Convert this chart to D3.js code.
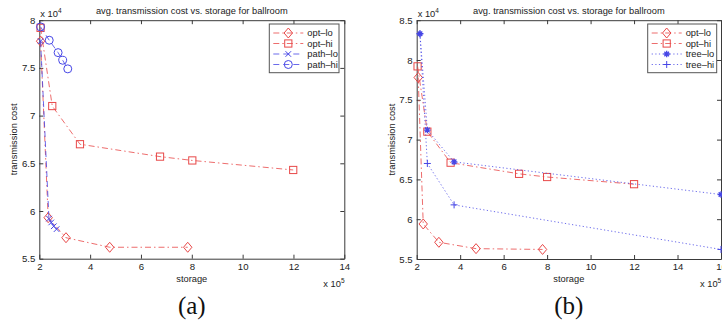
<!DOCTYPE html>
<html>
<head>
<meta charset="utf-8">
<script src="https://cdn.jsdelivr.net/npm/d3@7"></script>
<style>
  body { margin: 0; background: #fff; }
  svg { display: block; font-family: "Liberation Sans", Arial, sans-serif; }
</style>
</head>
<body>
<svg id="chart" width="722" height="326"></svg>
<script>
// values: x in units of 1e5 (storage), y in units of 1e4 (cost)
const titleText = "avg. transmission cost vs. storage for ballroom";

// panel (a)
const optLoA  = [[2.05, 7.78], [2.35, 5.93], [3.05, 5.72], [4.77, 5.62], [7.84, 5.62]];
const optHiA  = [[2.05, 7.92], [2.51, 7.10], [3.60, 6.70], [6.75, 6.57], [8.02, 6.53], [11.99, 6.43]];
const pathLoA = [[2.05, 7.78], [2.38, 5.92], [2.47, 5.88], [2.57, 5.84], [2.68, 5.81]];
const pathHiA = [[2.05, 7.93], [2.39, 7.79], [2.74, 7.66], [2.92, 7.58], [3.12, 7.49]];
const xTicksA = [2, 4, 6, 8, 10, 12, 14];
const yTicksA = [5.5, 6, 6.5, 7, 7.5, 8];

// panel (b)
const optLoB  = [[2.07, 7.78], [2.30, 5.94], [3.02, 5.71], [4.73, 5.63], [7.79, 5.62]];
const optHiB  = [[2.04, 7.92], [2.49, 7.10], [3.56, 6.71], [6.71, 6.57], [8.00, 6.53], [12.00, 6.44]];
const treeLoB = [[2.15, 8.33], [2.49, 7.12], [3.72, 6.72], [16.0, 6.31]];
const treeHiB = [[2.15, 8.33], [2.49, 6.70], [3.72, 6.18], [16.0, 5.62]];
const xTicksB = [2, 4, 6, 8, 10, 12, 14, 16];
const yTicksB = [5.5, 6, 6.5, 7, 7.5, 8, 8.5];

const RED = "#e84848", BLUE = "#4646e6";
const dash = { dashdot: "6,3,1.5,3", dashed: "6,4", dotted: "1.2,2.4" };

const svg = d3.select("#chart");
svg.append("rect").attr("width", 722).attr("height", 326).attr("fill", "#fff");

function marker(g, type, x, y, color) {
  if (type === "diamond") {
    g.append("path").attr("d", `M${x},${y-5}L${x+4.2},${y}L${x},${y+5}L${x-4.2},${y}Z`)
      .attr("fill", "none").attr("stroke", color).attr("stroke-width", 1);
  } else if (type === "square") {
    g.append("rect").attr("x", x - 3.6).attr("y", y - 3.6).attr("width", 7.2).attr("height", 7.2)
      .attr("fill", "none").attr("stroke", color).attr("stroke-width", 1);
  } else if (type === "circle") {
    g.append("circle").attr("cx", x).attr("cy", y).attr("r", 4)
      .attr("fill", "none").attr("stroke", color).attr("stroke-width", 1);
  } else if (type === "plus") {
    g.append("path").attr("d", `M${x-3.5},${y}H${x+3.5}M${x},${y-3.5}V${y+3.5}`)
      .attr("stroke", color).attr("stroke-width", 1);
  } else if (type === "star") {
    const r = 3.2, d = r * 0.72;
    g.append("path")
      .attr("d", `M${x-r},${y}H${x+r}M${x},${y-r}V${y+r}M${x-d},${y-d}L${x+d},${y+d}M${x-d},${y+d}L${x+d},${y-d}`)
      .attr("stroke", color).attr("stroke-width", 1.3);
  } else if (type === "xmark") {
    const d = 2.8;
    g.append("path").attr("d", `M${x-d},${y-d}L${x+d},${y+d}M${x-d},${y+d}L${x+d},${y-d}`)
      .attr("stroke", color).attr("stroke-width", 1);
  }
}

function drawPanel(p) {
  const x = d3.scaleLinear().domain(p.xDomain).range([p.left, p.right]);
  const y = d3.scaleLinear().domain(p.yDomain).range([p.bottom, p.top]);
  const g = svg.append("g");

  // box + inward ticks on all four sides
  const axisColor = "#3a3a3a";
  const bottom = g.append("g").attr("transform", `translate(0,${p.bottom})`)
    .call(d3.axisBottom(x).tickValues(p.xTicks).tickSizeInner(-4).tickSizeOuter(0).tickPadding(4).tickFormat(d3.format("d")));
  const top = g.append("g").attr("transform", `translate(0,${p.top})`)
    .call(d3.axisTop(x).tickValues(p.xTicks).tickSizeInner(-4).tickSizeOuter(0).tickFormat(""));
  const left = g.append("g").attr("transform", `translate(${p.left},0)`)
    .call(d3.axisLeft(y).tickValues(p.yTicks).tickSizeInner(-4).tickSizeOuter(0).tickPadding(4).tickFormat(d => d3.format("")(d)));
  const right = g.append("g").attr("transform", `translate(${p.right},0)`)
    .call(d3.axisRight(y).tickValues(p.yTicks).tickSizeInner(-4).tickSizeOuter(0).tickFormat(""));
  [bottom, top, left, right].forEach(a => {
    a.select(".domain").attr("stroke", axisColor);
    a.selectAll(".tick line").attr("stroke", axisColor);
    a.selectAll(".tick text").attr("fill", "#222").style("font-size", "9.6px")
      .style("font-family", '"Liberation Sans", Arial, sans-serif');
  });

  // series
  const line = d3.line().x(d => x(d[0])).y(d => y(d[1]));
  p.series.forEach(s => {
    g.append("path").datum(s.data).attr("d", line)
      .attr("fill", "none").attr("stroke", s.color).attr("stroke-opacity", 0.8)
      .attr("stroke-width", 1).attr("stroke-dasharray", dash[s.style]);
    const mg = g.append("g");
    s.data.forEach(d => marker(mg, s.marker, x(d[0]), y(d[1]), s.color));
  });

  // texts
  g.append("text").attr("x", (p.left + p.right) / 2).attr("y", 13.5).attr("text-anchor", "middle")
    .style("font-size", "9.3px").attr("fill", "#222").text(titleText);
  const ex4 = g.append("text").attr("x", p.left + 1).attr("y", 16.5).style("font-size", "9.3px").attr("fill", "#222");
  ex4.append("tspan").text("x 10");
  ex4.append("tspan").attr("dy", -4).style("font-size", "6.5px").text("4");
  const ex5 = g.append("text").attr("x", p.right - 21).attr("y", 287).style("font-size", "9.3px").attr("fill", "#222");
  ex5.append("tspan").text("x 10");
  ex5.append("tspan").attr("dy", -4).style("font-size", "6.5px").text("5");
  g.append("text").attr("x", (p.left + p.right) / 2).attr("y", 282).attr("text-anchor", "middle")
    .style("font-size", "9.3px").attr("fill", "#222").text("storage");
  g.append("text").attr("transform", `translate(${p.left - 22},${(p.top + p.bottom) / 2}) rotate(-90)`)
    .attr("text-anchor", "middle").style("font-size", "9.3px").attr("fill", "#222").text("transmission cost");
  g.append("text").attr("x", (p.left + p.right) / 2).attr("y", 314).attr("text-anchor", "middle")
    .style("font-family", '"Liberation Serif", "Times New Roman", serif').style("font-size", "25px")
    .attr("fill", "#111").text(p.label);

  // legend
  const L = p.legend;
  const lg = g.append("g");
  lg.append("rect").attr("x", L.x).attr("y", 24).attr("width", L.w).attr("height", 48.7)
    .attr("fill", "#fff").attr("stroke", "#555").attr("stroke-width", 1);
  p.series.forEach((s, i) => {
    const yy = 33 + i * 10.5;
    lg.append("line").attr("x1", L.x + 4).attr("x2", L.x + 34).attr("y1", yy).attr("y2", yy)
      .attr("stroke", s.color).attr("stroke-opacity", 0.8).attr("stroke-dasharray", dash[s.style]);
    marker(lg, s.marker, L.x + 19, yy, s.color);
    lg.append("text").attr("x", L.x + 38).attr("y", yy + 3.3).style("font-size", "9.3px")
      .attr("fill", "#222").text(s.name);
  });
}

drawPanel({
  label: "(a)", left: 39.3, right: 344.3, top: 20.2, bottom: 258.7,
  xDomain: [2, 14], yDomain: [5.5, 8], xTicks: xTicksA, yTicks: yTicksA,
  legend: { x: 269.3, w: 69.7 },
  series: [
    { name: "opt\u2013lo", data: optLoA, color: RED, style: "dashdot", marker: "diamond" },
    { name: "opt\u2013hi", data: optHiA, color: RED, style: "dashdot", marker: "square" },
    { name: "path\u2013lo", data: pathLoA, color: BLUE, style: "dashed", marker: "xmark" },
    { name: "path\u2013hi", data: pathHiA, color: BLUE, style: "dashed", marker: "circle" }
  ]
});

drawPanel({
  label: "(b)", left: 416.7, right: 721, top: 20.2, bottom: 259,
  xDomain: [2, 16], yDomain: [5.5, 8.5], xTicks: xTicksB, yTicks: yTicksB,
  legend: { x: 647.7, w: 69 },
  series: [
    { name: "opt\u2013lo", data: optLoB, color: RED, style: "dashdot", marker: "diamond" },
    { name: "opt\u2013hi", data: optHiB, color: RED, style: "dashdot", marker: "square" },
    { name: "tree\u2013lo", data: treeLoB, color: BLUE, style: "dotted", marker: "star" },
    { name: "tree\u2013hi", data: treeHiB, color: BLUE, style: "dotted", marker: "plus" }
  ]
});
</script>
</body>
</html>
